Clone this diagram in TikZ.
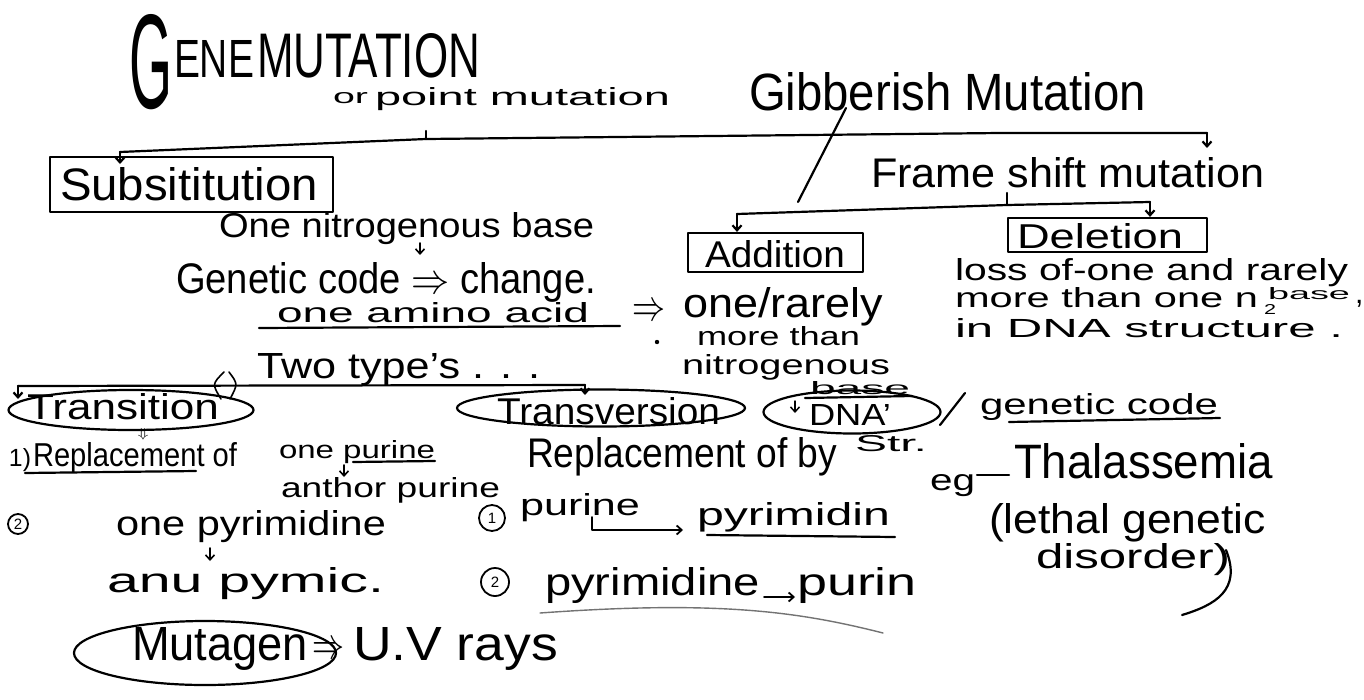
\documentclass[tikz,border=0pt]{standalone}
\usepackage{fontspec}
\setmainfont{Liberation Sans}
\usetikzlibrary{shapes.geometric,arrows.meta}
\newcommand\hw[3]{\resizebox{#1pt}{#2pt}{#3}}
\begin{document}
\begin{tikzpicture}[x=1pt,y=-1pt,line width=2.2pt,line cap=round,line join=round,
  txt/.style={anchor=base west,inner sep=0pt,outer sep=0pt},
  arr/.style={-{Straight Barb[length=5pt,width=9pt]}},
  boxed/.style={draw,rectangle,inner sep=0pt},
  oval/.style={draw,ellipse,inner sep=0pt},
  num/.style={draw,circle,inner sep=0pt,minimum size=24pt,line width=1.8pt,font=\fontsize{15}{15}\selectfont},
  faint/.style={line width=1.4pt,black!55}]
\useasboundingbox[fill=white] (0,0) rectangle (1364,699);
% ---------- title ----------
\node[txt] (tG) at (129,108) {\hw{43}{94}{G}};
\node[txt] (tENE) at (174,77) {\hw{80}{37}{ENE}};
\node[txt] (tMUT) at (257,77) {\hw{223}{44}{MUTATION}};
\node[txt] (tor) at (333,103) {\hw{35}{11}{or}};
\node[txt] (point) at (375,105) {\hw{295}{18}{point mutation}};
\node[txt] (gib) at (749,110) {\hw{397}{38}{Gibberish Mutation}};
% ---------- main bracket ----------
\coordinate (mA) at (120,152);
\coordinate (mB) at (426,139);
\coordinate (mM) at (1000,133);
\coordinate (mC) at (1207,133);
\coordinate (mCe) at (1207,148);
\coordinate (mAe) at (120,164);
\coordinate (mBt) at (426,131);
\draw (mA) -- (mB) -- (mM) -- (mC);
\draw[arr] (mA) -- (mAe);
\draw[arr] (mC) -- (mCe);
\draw (mB) -- (mBt);
% ---------- substitution ----------
\node[boxed,minimum width=283pt,minimum height=55pt] (subsbox) at (191.5,184.5) {};
\node[txt] (subs) at (60,200) {\hw{258}{33}{Subsititution}};
\node[txt] (onenb) at (219,237) {\hw{375}{25}{One nitrogenous base}};
\coordinate (a1s) at (420,243); \coordinate (a1e) at (420,255);
\draw[arr,line width=1.6pt] (a1s) -- (a1e);
\node[txt] (gcode) at (176,293) {\hw{420}{31}{Genetic code $\Rightarrow$ change.}};
\node[txt] (amino) at (277,322) {\hw{312}{20}{one amino acid}};
\coordinate (ul1a) at (259,328); \coordinate (ul1b) at (620,326);
\draw (ul1a) -- (ul1b);
\node[txt] (imp1) at (632,320) {\hw{33}{16}{$\Rightarrow$}};
\fill (657,342) circle (2.2);
% ---------- frame shift ----------
\coordinate (slA) at (846,108); \coordinate (slB) at (798,202);
\draw (slA) -- (slB);
\node[txt] (frame) at (871,187) {\hw{393}{30}{Frame shift mutation}};
\coordinate (sA) at (737,214); \coordinate (sB) at (1007,205); \coordinate (sC) at (1150,202);
\coordinate (sBt) at (1007,193);
\draw (sA) -- (sB) -- (sC);
\draw (sB) -- (sBt);
\node[boxed,minimum width=175pt,minimum height=39pt] (addbox) at (775.5,252.5) {};
\node[boxed,minimum width=199pt,minimum height=34pt] (delbox) at (1107.5,235) {};
\draw[arr] (sA) -- (sA |- addbox.north);
\draw[arr] (sC) -- (sC |- delbox.north);
\node[txt] (add) at (705,267) {\hw{140}{27}{Addition}};
\node[txt] (del) at (1017,248) {\hw{166}{25}{Deletion}};
\node[txt] (rarely) at (683,317) {\hw{200}{30}{one/rarely}};
\node[txt] (more) at (697,345) {\hw{163}{19}{more than}};
\node[txt] (nitro) at (682,374) {\hw{208}{20}{nitrogenous}};
\node[txt] (base1) at (810,394) {\hw{100}{13}{base}};
\coordinate (ul2a) at (805,398); \coordinate (ul2b) at (912,396);
\draw (ul2a) -- (ul2b);
\node[txt] (loss) at (955,280) {\hw{393}{22}{loss of-one and rarely}};
\node[txt] (morethan) at (955,307) {\hw{303}{20}{more than one n}};
\node[txt] (sub2) at (1264,314) {\hw{12}{10}{2}};
\node[txt] (base2) at (1268,299) {\hw{82}{12}{base}};
\node[txt] (comma) at (1355,303) {\fontsize{30}{30}\selectfont ,};
\node[txt] (indna) at (955,337) {\hw{388}{19}{in DNA structure .}};
% ---------- two types ----------
\node[txt] (two) at (257,378) {\hw{283}{25}{Two type's . . .}};
\draw[line width=1.6pt] (224,372) .. controls (212,384) .. (221,399);
\draw[line width=1.6pt] (229,372) .. controls (238,384) .. (230,399);
\coordinate (tA) at (18,386); \coordinate (tB) at (585,385);
\coordinate (tAe) at (18,399); \coordinate (tBe) at (585,395);
\draw (tA) -- (tB);
\draw[arr] (tA) -- (tAe);
\draw[arr] (tB) -- (tBe);
\node[oval,minimum width=245pt,minimum height=40pt] (transE) at (131,410) {};
\node[txt] (trans) at (27,419) {\hw{192}{26}{Transition}};
\node[oval,minimum width=288pt,minimum height=37pt] (tversE) at (601,408) {};
\node[txt] (tvers) at (497,424) {\hw{223}{27}{Transversion}};
\node[oval,minimum width=177pt,minimum height=43pt] (dnaE) at (852,412) {};
\node[txt] (dna) at (809,425) {\hw{82}{21}{DNA'}};
\coordinate (dAs) at (795,401); \coordinate (dAe) at (795,413);
\draw[arr,line width=1.5pt] (dAs) -- (dAe);
\coordinate (tlA) at (940,425); \coordinate (tlB) at (965,393);
\draw (tlA) -- (tlB);
\node[txt] (str) at (855,451) {\hw{72}{16}{Str.}};
% ---------- transition details ----------
\node[inner sep=0pt] (dd) at (143,434) {\hw{11}{9}{$\Downarrow$}};
\node[txt] (n1) at (9,466) {\hw{22}{18}{1)}};
\node[txt] (repl) at (33,466) {\hw{204}{24}{Replacement of}};
\coordinate (ul3a) at (25,473); \coordinate (ul3b) at (196,471);
\draw (ul3a) -- (ul3b);
\node[txt] (onep) at (279,458) {\hw{156}{18}{one purine}};
\coordinate (ul4a) at (353,462); \coordinate (ul4b) at (435,461);
\draw (ul4a) -- (ul4b);
\coordinate (a2s) at (344,465); \coordinate (a2e) at (344,477);
\draw[arr,line width=1.6pt] (a2s) -- (a2e);
\node[txt] (anthor) at (281,497) {\hw{219}{20}{anthor purine}};
\node[num,minimum size=20pt] (c2) at (18,524) {2};
\node[txt] (onepy) at (116,535) {\hw{270}{25}{one pyrimidine}};
\coordinate (a3s) at (210,548); \coordinate (a3e) at (210,561);
\draw[arr,line width=1.6pt] (a3s) -- (a3e);
\node[txt] (anu) at (107,592) {\hw{277}{25}{anu pymic.}};
\node[oval,minimum width=262pt,minimum height=64pt] (mutE) at (205,653) {};
\node[txt] (mut) at (132,660) {\hw{176}{33}{Mutagen}};
\node[txt] (imp2) at (312,658) {\hw{32}{16}{$\Rightarrow$}};
\node[txt] (uv) at (353,660) {\hw{205}{33}{U.V rays}};
% ---------- transversion details ----------
\node[txt] (replby) at (527,467) {\hw{310}{30}{Replacement of by}};
\node[num,minimum size=26pt] (c1) at (492,518) {1};
\node[txt] (pur1) at (520,515) {\hw{120}{22}{purine}};
\coordinate (hk1) at (592,517); \coordinate (hk2) at (592,530); \coordinate (hk3) at (683,530);
\draw[arr,line width=1.8pt] (hk1) -- (hk2) -- (hk3);
\node[txt] (pyr1) at (697,525) {\hw{193}{23}{pyrimidin}};
\coordinate (ul5a) at (707,535); \coordinate (ul5b) at (895,537);
\draw (ul5a) -- (ul5b);
\node[num,minimum size=28pt] (c3) at (495,582) {2};
\node[txt] (pyr2) at (545,595) {\hw{215}{28}{pyrimidine}};
\node[txt] (pur2) at (797,595) {\hw{120}{28}{purin}};
\coordinate (a4s) at (764,597); \coordinate (a4e) at (795,597);
\draw[arr,line width=1.8pt] (a4s) -- (a4e);
\coordinate (ul6a) at (540,613); \coordinate (ul6b) at (883,633);
\draw[faint] (ul6a) .. controls (720,600) and (800,612) .. (ul6b);
% ---------- right side ----------
\node[txt] (gc) at (980,414) {\hw{238}{21}{genetic code}};
\coordinate (ul7a) at (1009,422); \coordinate (ul7b) at (1220,418);
\draw (ul7a) -- (ul7b);
\node[txt] (eg) at (930,490) {\hw{45}{16}{eg}};
\coordinate (dsA) at (977,475); \coordinate (dsB) at (1009,475);
\draw (dsA) -- (dsB);
\node[txt] (thal) at (1014,478) {\hw{259}{35}{Thalassemia}};
\node[txt] (leth) at (989,533) {\hw{277}{30}{(lethal genetic}};
\node[txt] (dis) at (1036,568) {\hw{194}{25}{disorder)}};
\coordinate (pcA) at (1226,550); \coordinate (pcB) at (1182,615);
\draw (pcA) .. controls (1242,590) and (1215,605) .. (pcB);
\end{tikzpicture}
\end{document}
